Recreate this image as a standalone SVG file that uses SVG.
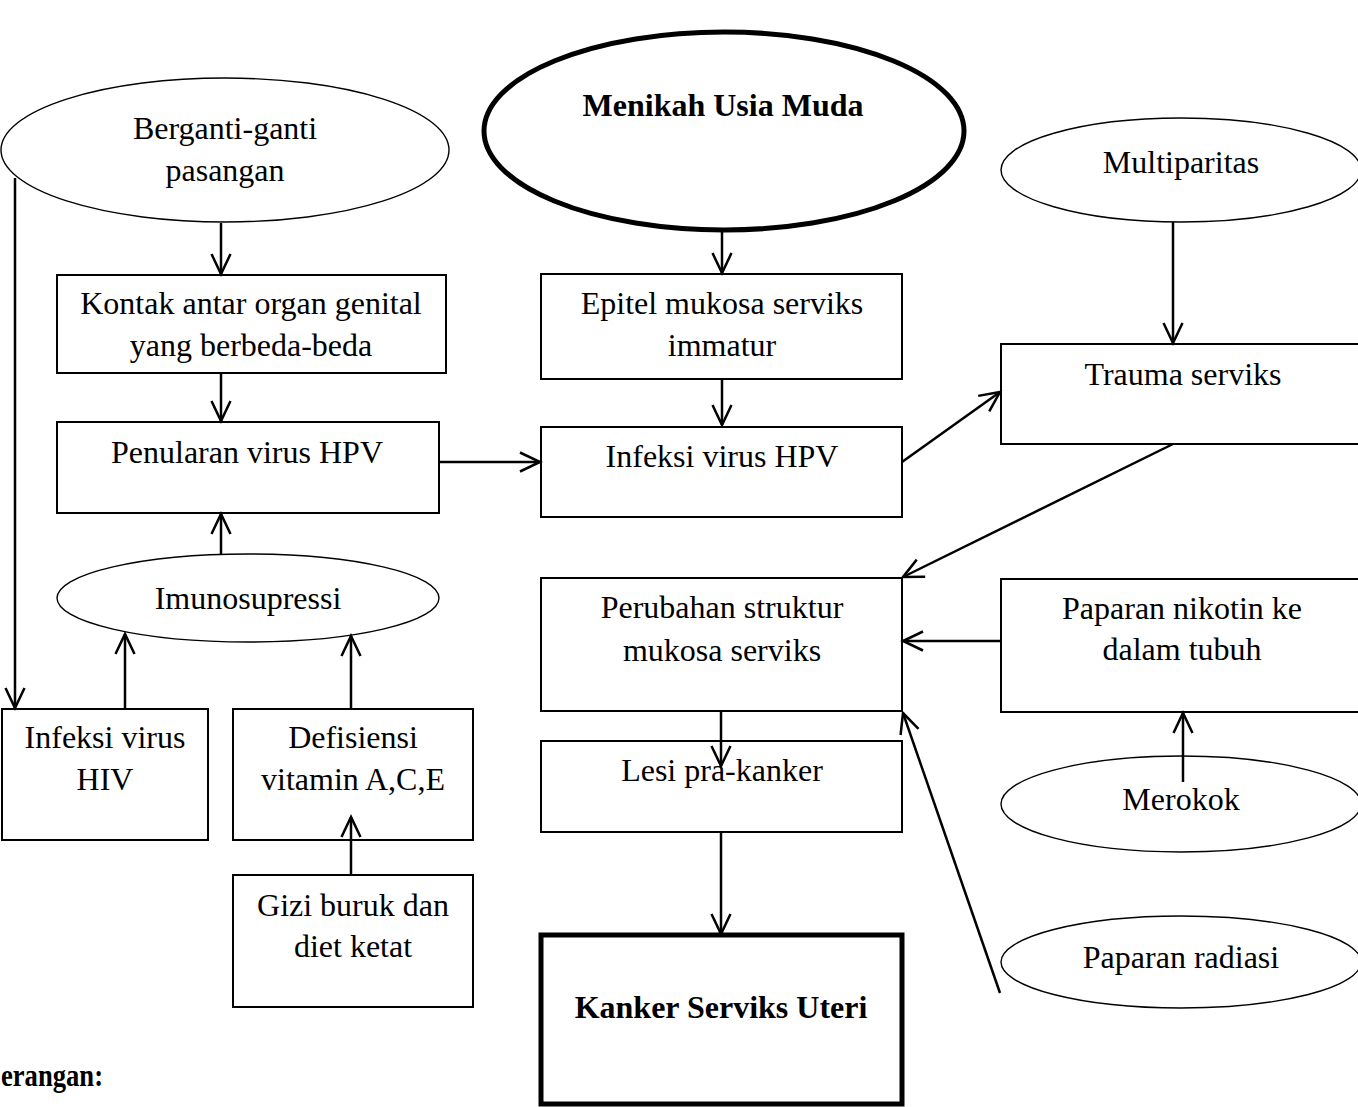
<svg xmlns="http://www.w3.org/2000/svg" width="1358" height="1107" viewBox="0 0 1358 1107">
<style>
text{font-family:"Liberation Serif","Times New Roman",serif;font-size:32px;fill:#000;text-anchor:middle}
.b{font-weight:bold}
.box{fill:#fff;stroke:#000;stroke-width:2}
.thick{fill:#fff;stroke:#000;stroke-width:5}
.ell{fill:#fff;stroke:#000;stroke-width:1.4}
.ellb{fill:#fff;stroke:#000;stroke-width:5}
.c line{stroke:#000;stroke-width:2.5;fill:none}
.a{marker-end:url(#arr)}
</style>
<defs>
<marker id="arr" markerUnits="userSpaceOnUse" markerWidth="30" markerHeight="30" refX="22" refY="12" orient="auto" overflow="visible">
<path d="M2,2.5 L22,12 L2,21.5" fill="none" stroke="#000" stroke-width="2.5"/>
</marker>
</defs>
<rect width="1358" height="1107" fill="#fff"/>

<g id="berganti"><ellipse class="ell" cx="225" cy="150" rx="224" ry="72"/><text x="225" y="139">Berganti-ganti</text><text x="225" y="181">pasangan</text></g>
<g id="kontak"><rect class="box" x="57" y="275" width="389" height="98"/><text x="251" y="314">Kontak antar organ genital</text><text x="251" y="356">yang berbeda-beda</text></g>
<g id="penularan"><rect class="box" x="57" y="422" width="382" height="91"/><text x="247" y="463">Penularan virus HPV</text></g>
<g id="imuno"><ellipse class="ell" cx="248" cy="598" rx="191" ry="44"/><text x="248" y="609">Imunosupressi</text></g>
<g id="hiv"><rect class="box" x="2" y="709" width="206" height="131"/><text x="105" y="748">Infeksi virus</text><text x="105" y="790">HIV</text></g>
<g id="defisiensi"><rect class="box" x="233" y="709" width="240" height="131"/><text x="353" y="748">Defisiensi</text><text x="353" y="790">vitamin A,C,E</text></g>
<g id="gizi"><rect class="box" x="233" y="875" width="240" height="132"/><text x="353" y="916">Gizi buruk dan</text><text x="353" y="957">diet ketat</text></g>
<g id="keterangan"><text class="b" x="1" y="1086" textLength="102" lengthAdjust="spacingAndGlyphs" style="text-anchor:start;font-size:31px">erangan:</text></g>

<g id="menikah"><ellipse class="ellb" cx="724" cy="131" rx="240" ry="99"/><text class="b" x="723" y="116">Menikah Usia Muda</text></g>
<g id="epitel"><rect class="box" x="541" y="274" width="361" height="105"/><text x="722" y="314">Epitel mukosa serviks</text><text x="722" y="356">immatur</text></g>
<g id="infeksihpv"><rect class="box" x="541" y="427" width="361" height="90"/><text x="722" y="467">Infeksi virus HPV</text></g>
<g id="perubahan"><rect class="box" x="541" y="578" width="361" height="133"/><text x="722" y="618">Perubahan struktur</text><text x="722" y="661">mukosa serviks</text></g>
<g id="lesi"><rect class="box" x="541" y="741" width="361" height="91"/><text x="722" y="781">Lesi pra-kanker</text></g>
<g id="kanker"><rect class="thick" x="541" y="935" width="361" height="169"/><text class="b" x="721" y="1018">Kanker Serviks Uteri</text></g>

<g id="multiparitas"><ellipse class="ell" cx="1181" cy="170" rx="180" ry="52"/><text x="1181" y="173">Multiparitas</text></g>
<g id="trauma"><rect class="box" x="1001" y="344" width="362" height="100"/><text x="1183" y="385">Trauma serviks</text></g>
<g id="nikotin"><rect class="box" x="1001" y="579" width="362" height="133"/><text x="1182" y="619">Paparan nikotin ke</text><text x="1182" y="660">dalam tubuh</text></g>
<g id="merokok"><ellipse class="ell" cx="1181" cy="804" rx="180" ry="48"/><text x="1181" y="810">Merokok</text></g>
<g id="radiasi"><ellipse class="ell" cx="1181" cy="962" rx="180" ry="46"/><text x="1181" y="968">Paparan radiasi</text></g>

<g id="connectors" class="c">
<line class="a" x1="221" y1="223" x2="221" y2="274"/>
<line class="a" x1="221" y1="373" x2="221" y2="421"/>
<line class="a" x1="221" y1="555" x2="221" y2="514"/>
<line class="a" x1="15" y1="178" x2="15" y2="708"/>
<line class="a" x1="125" y1="709" x2="125" y2="634"/>
<line class="a" x1="351" y1="709" x2="351" y2="636"/>
<line class="a" x1="351" y1="875" x2="351" y2="817"/>
<line class="a" x1="722" y1="231" x2="722" y2="273"/>
<line class="a" x1="722" y1="379" x2="722" y2="425"/>
<line class="a" x1="440" y1="462" x2="540" y2="462"/>
<line class="a" x1="902" y1="462" x2="1000" y2="392"/>
<line class="a" x1="1173" y1="222" x2="1173" y2="343"/>
<line class="a" x1="1173" y1="444" x2="903" y2="577"/>
<line class="a" x1="1001" y1="641" x2="903" y2="641"/>
<line class="a" x1="1183" y1="782" x2="1183" y2="713"/>
<line class="a" x1="1000" y1="993" x2="903" y2="713"/>
<line class="a" x1="721" y1="711" x2="721" y2="766"/>
<line class="a" x1="721" y1="832" x2="721" y2="934"/>
</g>
</svg>
